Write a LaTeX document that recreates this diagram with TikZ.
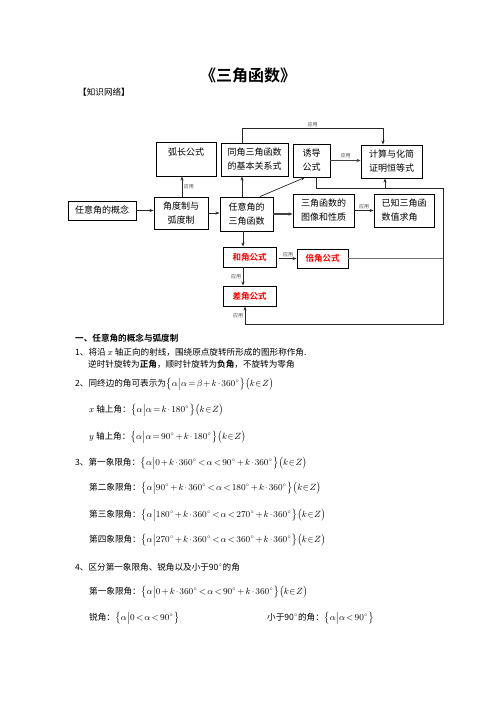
\documentclass[tikz,border=0pt]{standalone}
\usepackage{fontspec}
\setmainfont{Noto Sans CJK SC}[BoldFont={Noto Sans CJK SC Bold}]
\usetikzlibrary{arrows.meta}
\newcommand{\dg}{^{\scriptscriptstyle\circ}}
\newcommand{\kz}{\bigl(k\!\in\! Z\bigr)}
\newcommand{\kd}{k\mathbin{\cdot}}
\newcommand{\tightmath}{\thickmuskip=2.5mu plus 1mu\relax\medmuskip=2mu\relax\thinmuskip=1.5mu\relax}
\begin{document}
\begin{tikzpicture}[x=1pt,y=-1pt,
  box/.style={draw, line width=0.9pt, inner sep=0pt, align=center,
    font=\fontsize{9}{14}\selectfont},
  rbox/.style={draw, line width=0.9pt, inner sep=0pt, align=center,
    text=red, font=\fontsize{8.5}{10}\selectfont\bfseries},
  conn/.style={line width=0.7pt, draw=black!85},
  gconn/.style={line width=0.9pt, draw=black!55},
  arr/.style={conn, -{Stealth[length=4pt,width=3pt]}},
  tarr/.style={line width=1.3pt, draw=black!75, -{Stealth[length=4pt,width=3.4pt]}},
  lbl/.style={font=\fontsize{5}{6}\selectfont, text=black!70, inner sep=1.5pt},
  txt/.style={anchor=west, inner sep=0pt, text height=6pt, text depth=1.5pt,
    font=\fontsize{8.6}{10}\selectfont\tightmath}]
\useasboundingbox (0,0) rectangle (496,702);

% title
\node[font=\fontsize{16}{18}\selectfont\bfseries, inner sep=0pt] (title) at (248,75) {《三角函数》};
\node[txt] (net) at (78,93) {\textbf{【}知识网络\textbf{】}};

% boxes
\node[box, minimum width=60pt, minimum height=34pt] (hu) at (186,159) {弧长公式\\\mbox{}};
\node[box, minimum width=67pt, minimum height=33pt] (tong) at (254.5,159.5) {同角三角函数\\的基本关系式};
\node[box, minimum width=37pt, minimum height=33pt] (you) at (311.5,160.5) {诱导\\公式};
\node[box, minimum width=61pt, minimum height=33pt] (ji) at (391.5,161.5) {计算与化简\\证明恒等式};
\node[box, minimum width=68pt, minimum height=19pt] (gai) at (102,210.5) {任意角的概念};
\node[box, minimum width=54pt, minimum height=32pt] (jiao) at (181,213) {角度制与\\弧度制};
\node[box, minimum width=53pt, minimum height=34pt] (ren) at (246.5,214) {任意角的\\三角函数};
\node[box, minimum width=61pt, minimum height=33pt] (tu) at (323.5,210.5) {三角函数的\\图像和性质};
\node[box, minimum width=60pt, minimum height=33pt, align=left] (yi) at (404,210.5) {已知三角函\\数值求角};
\node[rbox, minimum width=53pt, minimum height=20pt] (he) at (249.5,257) {和角公式};
\node[rbox, minimum width=51pt, minimum height=19pt] (bei) at (322.5,258.5) {倍角公式};
\node[rbox, minimum width=53pt, minimum height=20pt] (cha) at (249.5,296) {差角公式};

% corner coordinates
\coordinate (r1) at (443,188);
\coordinate (r2) at (443,324);

% connectors
\draw[arr] (gai.east) -- (gai.east -| jiao.west);
\draw[arr] (jiao.east) -- (jiao.east -| ren.west);
\draw[arr] ([xshift=1pt]jiao.north) -- ([xshift=1pt]jiao.north |- hu.south)
  node[lbl, midway, right] {应用};
\draw[arr] ([xshift=-4.5pt]ren.north) -- ([xshift=-4.5pt]ren.north |- tong.south);
\draw[arr] ([xshift=13.5pt]ren.north) -- ([xshift=-6.5pt]you.south);
\draw[tarr] (ren.east) -- (ren.east -| tu.west);
\draw[arr] (tu.east) -- (tu.east -| yi.west) node[lbl, midway, above] {应用};
\draw[tarr] (you.east) -- (you.east -| ji.west) node[lbl, midway, above] {应用};
\draw[arr] ([xshift=-12.5pt]tong.north) -- ++(0,-14)
  -| node[lbl, pos=0.25, above] {应用} ([xshift=-8.5pt]ji.north);
\draw[arr] ([xshift=4.5pt]you.south) |- (r1) -- (r2)
  -| node[lbl, pos=0.75, left] {应用} ([xshift=-4.5pt]cha.south);
\draw[arr] ([xshift=-6.5pt]ji.south |- r1) -- ([xshift=-6.5pt]ji.south);
\draw[gconn] (bei.east) -- (bei.east -| r1);
\draw[arr] ([xshift=-3.5pt]ren.south) -- ([xshift=-3.5pt]ren.south |- he.north);
\draw[arr] ([xshift=3pt]he.east |- bei.west) -- (bei.west) node[lbl, midway, above] {应用};
\draw[arr] ([xshift=-6.5pt]he.south) -- ([xshift=-6.5pt]he.south |- cha.north)
  node[lbl, midway, left] {应用};

% body text
\node[txt] (s1) at (75,339) {\textbf{一、任意角的概念与弧度制}};
\node[txt] (l1) at (75,353) {1、将沿 $x$ 轴正向的射线，围绕原点旋转所形成的图形称作角.};
\node[txt] (l2) at (88,365) {逆时针旋转为\textbf{正角}，顺时针旋转为\textbf{负角}，不旋转为零角};
\node[txt] (l3) at (75,384) {2、同终边的角可表示为$\bigl\{\alpha\big|\alpha=\beta+\kd 360\dg\bigr\}\kz$};
\node[txt] (l4) at (89,410) {$x$ 轴上角：$\bigl\{\alpha\big|\alpha=\kd 180\dg\bigr\}\kz$};
\node[txt] (l5) at (89,437) {$y$ 轴上角：$\bigl\{\alpha\big|\alpha=90\dg+\kd 180\dg\bigr\}\kz$};
\node[txt] (l6) at (75,463) {3、第一象限角：$\bigl\{\alpha\big|0+\kd 360\dg<\alpha<90\dg+\kd 360\dg\bigr\}\kz$};
\node[txt] (l7) at (89,488) {第二象限角：$\bigl\{\alpha\big|90\dg+\kd 360\dg<\alpha<180\dg+\kd 360\dg\bigr\}\kz$};
\node[txt] (l8) at (89,515) {第三象限角：$\bigl\{\alpha\big|180\dg+\kd 360\dg<\alpha<270\dg+\kd 360\dg\bigr\}\kz$};
\node[txt] (l9) at (89,540) {第四象限角：$\bigl\{\alpha\big|270\dg+\kd 360\dg<\alpha<360\dg+\kd 360\dg\bigr\}\kz$};
\node[txt] (l10) at (75,568) {4、区分第一象限角、锐角以及小于90$\dg$的角};
\node[txt] (l11) at (89,592) {第一象限角：$\bigl\{\alpha\big|0+\kd 360\dg<\alpha<90\dg+\kd 360\dg\bigr\}\kz$};
\node[txt] (l12) at (89,618) {锐角：$\bigl\{\alpha\big|0<\alpha<90\dg\bigr\}$};
\node[txt] (l13) at (267,618) {小于90$\dg$的角：$\bigl\{\alpha\big|\alpha<90\dg\bigr\}$};
\end{tikzpicture}
\end{document}
